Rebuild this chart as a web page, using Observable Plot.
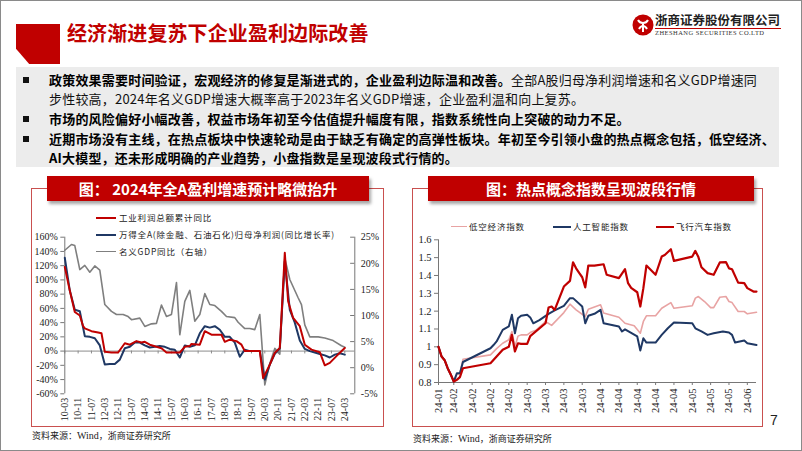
<!DOCTYPE html>
<html><head><meta charset="utf-8">
<script src="https://cdn.jsdelivr.net/npm/d3@7"></script>
<script src="https://cdn.jsdelivr.net/npm/@observablehq/plot@0.6"></script>
<style>
body{margin:0;background:#fff;}
#slide{position:relative;width:802px;height:451px;overflow:hidden;font-family:"Noto Sans CJK SC",sans-serif;box-sizing:border-box;border:1px solid #8a8a8a;background:#fff;}
.abs{position:absolute;}
.title{left:66px;top:19px;font-size:20px;font-weight:700;color:#C00000;white-space:nowrap;line-height:26px;letter-spacing:0.1px;}
.redflag{left:15px;top:23px;width:44px;height:40px;background:#C00000;clip-path:polygon(0 0,100% 0,100% 100%,30% 100%,0 62%);}
.txtbg{left:15px;top:66px;width:763px;height:100px;background:#ececec;}
.line{left:48px;font-size:13px;letter-spacing:0.2px;line-height:19px;white-space:nowrap;color:#111;}
.b{font-weight:700;color:#000;}
.bullet{left:22px;width:6px;height:6px;background:#111;}
.frame{border:1px solid #c9504f;box-sizing:border-box;}
.banner{background:#C00000;color:#fff;font-weight:700;font-size:15px;line-height:25px;text-align:center;white-space:nowrap;box-shadow:2px 3px 3px rgba(0,0,0,0.35);}
.leg{font-size:8.5px;letter-spacing:0.8px;color:#222;white-space:nowrap;line-height:12px;}
.sw{height:0;border-top-style:solid;}
.src{font-size:9px;color:#222;white-space:nowrap;}
.src .w{font-family:"Liberation Serif",serif;font-size:10px;}
</style></head><body>
<div id="slide">
  <div class="abs redflag"></div>
  <div class="abs title">经济渐进复苏下企业盈利边际改善</div>
  <svg class="abs" style="left:631px;top:13px" width="22" height="22" viewBox="0 0 22 22">
    <circle cx="11" cy="11" r="10.5" fill="#C00000"/>
    <path d="M6 6 C8 10,14 10,16 6 M7 15 C9 11,13 11,15 15 M11 9 L11 18" stroke="#fff" stroke-width="2" fill="none"/>
  </svg>
  <div class="abs" style="left:654px;top:11px;font-size:12.5px;font-weight:700;color:#222;white-space:nowrap;line-height:16px;">浙商证券股份有限公司</div>
  <div class="abs" style="left:654px;top:27px;width:126px;height:0;border-top:1px solid #C00000;"></div>
  <div class="abs" style="left:654px;top:28px;font-family:'Liberation Serif',serif;font-size:6.5px;letter-spacing:0.45px;color:#333;white-space:nowrap;line-height:8px;">ZHESHANG SECURITIES CO.LTD</div>

  <div class="abs txtbg"></div>
  <div class="abs bullet" style="top:76px"></div>
  <div class="abs line" style="top:69px"><span class="b">政策效果需要时间验证，宏观经济的修复是渐进式的，企业盈利边际温和改善。</span>全部A股归母净利润增速和名义GDP增速同</div>
  <div class="abs line" style="top:88px">步性较高，2024年名义GDP增速大概率高于2023年名义GDP增速，企业盈利温和向上复苏。</div>
  <div class="abs bullet" style="top:115px"></div>
  <div class="abs line b" style="top:108px">市场的风险偏好小幅改善，权益市场年初至今估值提升幅度有限，指数系统性向上突破的动力不足。</div>
  <div class="abs bullet" style="top:135px"></div>
  <div class="abs line b" style="top:128px">近期市场没有主线，在热点板块中快速轮动是由于缺乏有确定的高弹性板块。年初至今引领小盘的热点概念包括，低空经济、</div>
  <div class="abs line b" style="top:147px">AI大模型，还未形成明确的产业趋势，小盘指数是呈现波段式行情的。</div>

  <div class="abs frame" style="left:30px;top:187px;width:353px;height:239px;"></div>
  <div class="abs frame" style="left:411px;top:187px;width:351px;height:239px;"></div>
  <div id="leftChart" class="abs" style="left:30px;top:200px;"></div>
  <div id="rightChart" class="abs" style="left:411px;top:200px;"></div>
  <div class="abs banner" style="left:46px;top:175px;width:322px;height:25px;">图： 2024年全A盈利增速预计略微抬升</div>
  <div class="abs banner" style="left:427px;top:175px;width:326px;height:25px;">图：热点概念指数呈现波段行情</div>

  <div class="abs sw" style="left:95px;top:216px;width:20px;border-top-width:2px;border-top-color:#C00000"></div>
  <div class="abs leg" style="left:118px;top:210px;">工业利润总额累计同比</div>
  <div class="abs sw" style="left:95px;top:233px;width:20px;border-top-width:2px;border-top-color:#1F3864"></div>
  <div class="abs leg" style="left:118px;top:227px;">万得全A(除金融、石油石化)归母净利润(同比增长率)</div>
  <div class="abs sw" style="left:95px;top:250px;width:20px;border-top-width:1.5px;border-top-color:#7f7f7f"></div>
  <div class="abs leg" style="left:118px;top:244px;">名义GDP同比（右轴）</div>

  <div class="abs sw" style="left:450px;top:225px;width:16px;border-top-width:1.5px;border-top-color:#E8A3A3"></div>
  <div class="abs leg" style="left:468px;top:219px;">低空经济指数</div>
  <div class="abs sw" style="left:552px;top:225px;width:18px;border-top-width:2px;border-top-color:#1F3864"></div>
  <div class="abs leg" style="left:572px;top:219px;">人工智能指数</div>
  <div class="abs sw" style="left:655px;top:225px;width:18px;border-top-width:2px;border-top-color:#C00000"></div>
  <div class="abs leg" style="left:675px;top:219px;">飞行汽车指数</div>

  <div class="abs src" style="left:31px;top:428px;">资料来源：<span class="w">Wind</span>，浙商证券研究所</div>
  <div class="abs src" style="left:412px;top:431px;">资料来源：<span class="w">Wind</span>，浙商证券研究所</div>
  <div class="abs" style="left:769px;top:411px;font-family:'Liberation Sans',sans-serif;font-size:14px;color:#222;">7</div>
</div>
<script>
// ---------- Left chart data (x = months since 2010-03) ----------
const leftTickLabels = ["10-03","10-11","11-07","12-03","12-11","13-07","14-03","14-11","15-07","16-03","16-11","17-07","18-03","18-11","19-07","20-03","20-11","21-07","22-03","22-11","23-07","24-03"];
const leftYTicks = [-60,-40,-20,0,20,40,60,80,100,120,140,160];
const rightYTicks = [-5,0,5,10,15,20,25];

const profitMonths = [0,3,6,9,11,12,16,20,22,24,28,32,36,39,43,46,48,51,55,58,61,65,69,72,75,76,81,84,88,94,96,99,103,106,108,112,117,119,123,126,129,132,134,137,141,144,148,153,156,159,163,168];
const profitValues = [118,85,55,50,35,32,28,26,25,-1,-2,-2,11,9,14,12,13,9,6,4,-2,-2,-2,6,7,10,9,28,23,23,13,16,14,9,0,0,0,-38,-19,-2.5,4.5,138,70,46.6,35,9,2,-1.6,-20,-16.6,-7,4.3];

const windMonths = [0,3,6,9,12,15,18,21,24,27,30,33,36,39,42,45,48,51,54,57,60,63,66,69,72,75,78,81,84,87,90,93,96,99,102,105,108,111,114,117,120,123,126,129,132,135,138,141,144,147,150,153,156,159,162,165,168];
const windValues = [131,85,58,56,21,20,18,8,-19,-18,-18,-12,4,6,12,12,8,5,6,7,6,3,2,-9,8,6,8,25,35,33,35,30,20,20,12,-8,2,0,0,0,-40,-19,-4,4,126,58,40,15,3,0,-2,-4,-6,-9,-5,-3,-5];

const gdpMonths = [0,4,6,9,12,15,18,21,24,28,31,35,38,40,45,48,52,55,58,61,64,67,69,72,75,78,81,84,87,90,94,97,102,104,108,111,114,117,120,123,126,129,132,135,140,142,144,147,152,156,161,166,168];
const gdpValues = [22.5,23.6,23.4,18.8,19.6,18.3,19.5,18.7,12.1,10.8,10.2,10.2,9.8,9.2,9.5,7.9,8.4,8.5,12,9.8,10.2,16.3,6.3,12.7,14.8,8.9,10.2,14.2,12.1,11.9,10.8,9.8,9.6,8.7,7.5,7.5,7.3,10.2,-3.3,0.8,3.7,2.6,21,16.9,13.4,12.1,8.2,5.9,5.9,5.7,5.2,4.2,3.9];

// ---------- Right chart data (x = trading-day index from late Jan 2024) ----------
const rightTickDays = [0,5,11,17,23,29,35,41,47,53,59,65,71,77,83,89,95,101];
const rightTickLabels = ["24-01","24-02","24-02","24-02","24-02","24-03","24-03","24-03","24-03","24-04","24-04","24-04","24-04","24-04","24-05","24-05","24-05","24-06"];
const rightYTicksIdx = [0.8,0.9,1.0,1.1,1.2,1.3,1.4,1.5,1.6];

const lowAltDays = [0,1,2,3,4,5,6,7,8,17,19,21,23,24,25,26,27,29,30,32,35,37,41,43,45,48,49,53,54,59,61,64,66,67,68,71,73,76,77,83,84,85,87,89,90,92,94,95,96,98,100,101,104];
const lowAltValues = [1.0,0.946,0.925,0.88,0.845,0.805,0.845,0.85,0.93,0.955,0.99,1.02,1.04,1.086,1.0,1.06,1.067,1.067,1.08,1.095,1.142,1.12,1.192,1.239,1.207,1.17,1.211,1.236,1.19,1.166,1.132,1.118,1.076,1.142,1.174,1.174,1.216,1.248,1.216,1.23,1.273,1.282,1.254,1.22,1.22,1.278,1.282,1.254,1.248,1.198,1.198,1.185,1.194];

const aiDays = [0,1,2,3,4,5,6,7,8,17,18,19,21,23,24,25,26,27,29,30,31,33,36,38,41,43,44,47,48,49,51,53,54,59,60,61,65,66,67,68,71,73,75,77,83,84,86,88,90,93,95,96,97,100,101,104];
const aiValues = [1.0,0.946,0.925,0.88,0.845,0.805,0.852,0.852,0.915,0.992,1.01,1.03,1.095,1.114,1.18,1.076,1.16,1.174,1.18,1.165,1.132,1.15,1.185,1.204,1.23,1.273,1.273,1.226,1.132,1.174,1.185,1.207,1.132,1.114,1.086,1.098,1.058,0.979,1.048,1.024,1.024,1.067,1.104,1.136,1.132,1.104,1.086,1.067,1.076,1.086,1.08,1.067,1.024,1.035,1.02,1.01];

const flyDays = [0,1,2,3,4,5,6,7,8,17,19,21,23,24,25,26,27,29,30,35,36,37,38,41,43,44,45,46,47,48,49,51,54,55,59,61,62,63,65,66,67,68,71,73,74,76,77,83,84,85,86,88,90,92,94,95,96,98,100,101,103,104];
const flyValues = [1.0,0.946,0.925,0.88,0.845,0.805,0.815,0.83,0.88,0.908,0.946,0.983,1.0,1.067,0.974,1.02,1.017,1.017,1.06,1.132,1.22,1.226,1.207,1.338,1.37,1.474,1.44,1.414,1.39,1.333,1.456,1.455,1.463,1.404,1.385,1.435,1.357,1.33,1.306,1.226,1.329,1.456,1.404,1.506,1.515,1.547,1.482,1.506,1.538,1.503,1.446,1.413,1.404,1.473,1.475,1.44,1.435,1.36,1.357,1.329,1.31,1.31];

// ---------- build tables ----------
const toLeft = r => -60 + (r + 5) * 220 / 30;
const fromLeft = l => (l + 60) * 30 / 220 - 5;
const profit = profitMonths.map((m, i) => ({m, v: profitValues[i]}));
const wind = windMonths.map((m, i) => ({m, v: windValues[i]}));
const gdp = gdpMonths.map((m, i) => ({m, v: toLeft(gdpValues[i])}));
const leftTickMonths = leftTickLabels.map(s => { const [y, mo] = s.split("-").map(Number); return (y - 10) * 12 + (mo - 3); });
const leftLabelMap = new Map(leftTickMonths.map((m, i) => [m, leftTickLabels[i]]));
const fmtPct = d => (d < 0 ? "-" : "") + Math.abs(Math.round(d)) + "%";

const leftPlot = Plot.plot({
  width: 353, height: 225,
  marginLeft: 33.3, marginRight: 29.7, marginTop: 35.7, marginBottom: 32.7,
  style: {background: "transparent", fontFamily: "'Liberation Serif', serif", fontSize: "10px", color: "#222", overflow: "visible"},
  x: {domain: [0, 174], label: null},
  y: {domain: [-60, 160], label: null},
  marks: [
    Plot.ruleY([0], {stroke: "#8c8c8c", strokeWidth: 1}),
    Plot.ruleX(leftTickMonths, {x: d => d, y1: 0, y2: -4, stroke: "#8c8c8c"}),
    Plot.ruleX([0], {stroke: "#777"}),
    Plot.ruleX([174], {stroke: "#777"}),
    Plot.axisY({anchor: "left", ticks: leftYTicks, tickFormat: fmtPct, tickSize: 4, tickPadding: 3, stroke: "#777", label: null}),
    Plot.ruleY(rightYTicks.map(toLeft), {y: d => d, x1: 171.5, x2: 174, stroke: "#777"}),
    Plot.axisY({anchor: "right", ticks: rightYTicks.map(toLeft), tickFormat: d => fmtPct(fromLeft(d)), tickSize: 0, tickPadding: 6, label: null}),
    Plot.axisX({anchor: "bottom", ticks: leftTickMonths, tickFormat: d => leftLabelMap.get(d), tickRotate: -90, tickSize: 0, tickPadding: 4, label: null}),
    Plot.line(gdp, {x: "m", y: "v", stroke: "#7f7f7f", strokeWidth: 1.6}),
    Plot.line(wind, {x: "m", y: "v", stroke: "#1F3864", strokeWidth: 2}),
    Plot.line(profit, {x: "m", y: "v", stroke: "#C00000", strokeWidth: 2})
  ]
});
document.getElementById("leftChart").appendChild(leftPlot);

const lowAlt = lowAltDays.map((d, i) => ({d, v: lowAltValues[i]}));
const ai = aiDays.map((d, i) => ({d, v: aiValues[i]}));
const fly = flyDays.map((d, i) => ({d, v: flyValues[i]}));
const rightLabelMap = new Map(rightTickDays.map((d, i) => [d, rightTickLabels[i]]));

const rightPlot = Plot.plot({
  width: 351, height: 225,
  marginLeft: 26, marginRight: 7, marginTop: 38.3, marginBottom: 44,
  style: {background: "transparent", fontFamily: "'Liberation Serif', serif", fontSize: "10.5px", color: "#222", overflow: "visible"},
  x: {domain: [0, 104], label: null},
  y: {domain: [0.8, 1.6], label: null},
  marks: [
    Plot.ruleY([0.8], {stroke: "#777"}),
    Plot.ruleX([0], {stroke: "#777"}),
    Plot.axisY({anchor: "left", ticks: rightYTicksIdx, tickFormat: d => String(+d.toFixed(1)), tickSize: 4, tickPadding: 3, stroke: "#777", label: null}),
    Plot.axisX({anchor: "bottom", ticks: rightTickDays, tickFormat: d => rightLabelMap.get(d), tickRotate: -90, tickSize: 3, tickPadding: 3, stroke: "#777", label: null}),
    Plot.line(lowAlt, {x: "d", y: "v", stroke: "#E8A3A3", strokeWidth: 1.6}),
    Plot.line(ai, {x: "d", y: "v", stroke: "#1F3864", strokeWidth: 2}),
    Plot.line(fly, {x: "d", y: "v", stroke: "#C00000", strokeWidth: 2.2})
  ]
});
document.getElementById("rightChart").appendChild(rightPlot);
</script>
</body></html>
